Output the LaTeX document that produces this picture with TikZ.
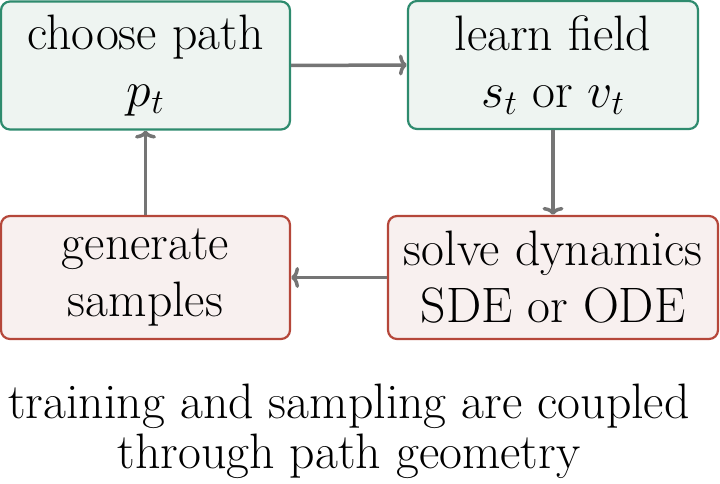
\RequirePackage{fix-cm}
\documentclass[tikz,border=0pt]{standalone}
\usetikzlibrary{arrows.meta}
\usepackage{xcolor}
\definecolor{gborder}{HTML}{2E8B6E}
\definecolor{gfill}{HTML}{EEF4F1}
\definecolor{rborder}{HTML}{B5473A}
\definecolor{rfill}{HTML}{F8F0EF}
\definecolor{arr}{HTML}{757575}
\begin{document}
\begin{tikzpicture}[x=1pt,y=-1pt,
  every node/.style={font=\fontsize{49.8}{57}\selectfont},
  gbox/.style={draw=gborder,fill=gfill,line width=2.2pt,rounded corners=9pt,align=center,inner sep=0pt},
  rbox/.style={draw=rborder,fill=rfill,line width=2.2pt,rounded corners=9pt,align=center,inner sep=0pt},
  conn/.style={draw=arr,line width=3.5pt,-{Computer Modern Rightarrow[width=21pt,length=8pt]}}]
\useasboundingbox (0,0) rectangle (720,484);
\node[gbox,minimum width=289pt,minimum height=128pt] (choose) at (145.5,65.5) {choose path\\$p_t$};
\node[gbox,minimum width=290pt,minimum height=128pt] (learn) at (553,65) {learn field\\$s_t$ or $v_t$};
\node[rbox,minimum width=330pt,minimum height=123pt] (solve) at (553,277.5) {solve dynamics\\SDE or ODE};
\node[rbox,minimum width=289pt,minimum height=123pt] (gen) at (145.5,277.5) {generate\\samples};
\draw[conn] (choose.east) -- (learn.west);
\draw[conn] (learn.south) -- (solve.north);
\draw[conn] (solve.west) -- (gen.east);
\draw[conn] (gen.north) -- (choose.south);
\node[align=center,font=\fontsize{49.8}{50}\selectfont] (cap) at (349,431) {training and sampling are coupled\\through path geometry};
\end{tikzpicture}
\end{document}
